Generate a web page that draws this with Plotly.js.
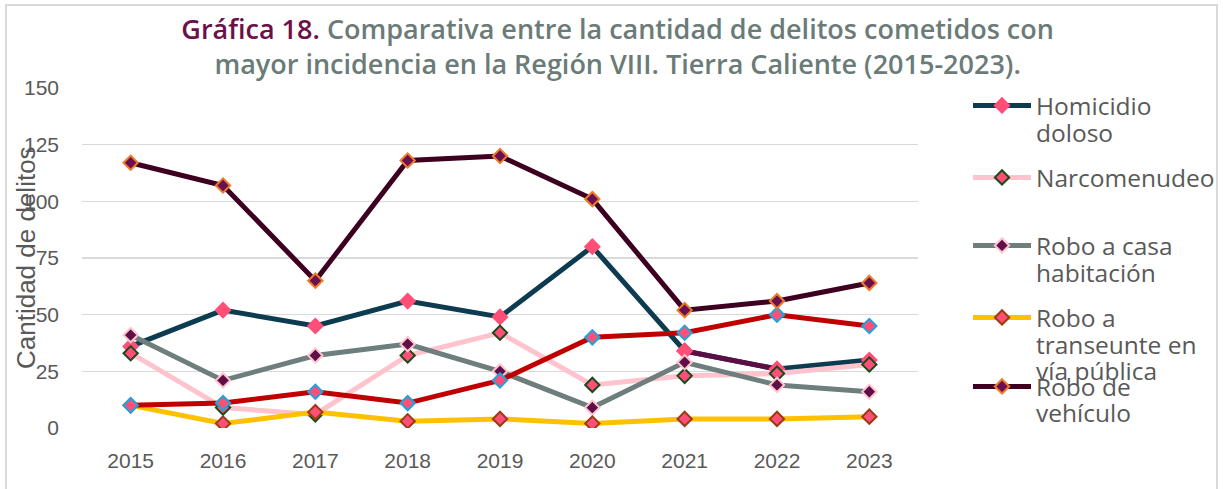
<!DOCTYPE html>
<html>
<head>
<meta charset="utf-8">
<script src="https://cdn.plot.ly/plotly-3.0.1.min.js"></script>
<style>html,body{margin:0;padding:0;background:#fff}#chart{width:1223px;height:489px}</style>
</head>
<body>
<div id="chart"></div>
<script>
const years = ['2015','2016','2017','2018','2019','2020','2021','2022','2023'];
const homicidio = [36, 52, 45, 56, 49, 80, 34, 26, 30];
const narcomenudeo = [33, 9, 6, 32, 42, 19, 23, 24, 28];
const roboCasa = [41, 21, 32, 37, 25, 9, 29, 19, 16];
const roboTranseunte = [10, 2, 7, 3, 4, 2, 4, 4, 5];
const serieRoja = [10, 11, 16, 11, 21, 40, 42, 50, 45];
const roboVehiculo = [117, 107, 65, 118, 120, 101, 52, 56, 64];
const yTicks = [0, 25, 50, 75, 100, 125, 150];
// legend names: first line goes in the legend, the rest continues below it
const legendNames = [['Homicidio', 'doloso'], ['Narcomenudeo'], ['Robo a casa', 'habitación'],
  ['Robo a', 'transeunte en', 'vía pública'], ['Robo de', 'vehículo']];

const MS = 11;
function tr(name, y, lineColor, fill, border, legend, show) {
  return {
    type: 'scatter', mode: 'lines+markers', name: name, x: years, y: y,
    line: {color: lineColor, width: 5},
    marker: {symbol: 'diamond', size: MS, color: fill, line: {color: border, width: border ? 2 : 0}},
    legend: legend, showlegend: show !== false
  };
}

const data = [
  tr(legendNames[0][0], homicidio, '#0d3b50', '#ff4f78', '#ff4f78', 'legend'),
  Object.assign(tr('seg', homicidio.slice(6, 8), '#5c0f45', '#ff4f78', '#ff4f78', 'legend', false), {x: years.slice(6, 8)}),
  tr(legendNames[1][0], narcomenudeo, '#ffc3cd', '#ff4f78', '#1c4a1c', 'legend2'),
  tr(legendNames[2][0], roboCasa, '#6d7e7c', '#5e0f48', '#ffc3cd', 'legend3'),
  tr(legendNames[3][0], roboTranseunte, '#ffc000', '#ff4f78', '#9a3c12', 'legend4'),
  tr('Otra', serieRoja, '#c00000', '#ff4f78', '#1ea4dc', 'legend', false),
  tr(legendNames[4][0], roboVehiculo, '#3d0020', '#6a1050', '#ee7a2c', 'legend5')
];

const legFont = {family: 'Open Sans, sans-serif', size: 24.5, color: '#595959'};
function leg(top) {
  return {xref: 'container', yref: 'container', x: 968 / 1223, y: 1 - top / 489,
    xanchor: 'left', yanchor: 'top', font: legFont, bgcolor: 'rgba(0,0,0,0)',
    valign: 'top', itemwidth: 58, borderwidth: 0};
}

// continuation lines of legend names (pixel row of each line centre)
const contRows = [[132], [], [272], [344, 370], [412]];
const contAnn = [];
legendNames.forEach((parts, i) => {
  parts.slice(1).forEach((t, j) => {
    contAnn.push({text: t, xref: 'paper', yref: 'paper', x: (1034 - 82) / 836,
      y: (428 - contRows[i][j]) / 340, xanchor: 'left', yanchor: 'middle', showarrow: false,
      font: legFont});
  });
});

const layout = {
  width: 1223, height: 489,
  margin: {l: 82, r: 305, t: 88, b: 61},
  paper_bgcolor: '#ffffff', plot_bgcolor: '#ffffff',
  font: {family: 'Liberation Sans, Arial, sans-serif', color: '#595959'},
  title: {
    text: '<span style="color:#6b1048">Gráfica 18.</span> Comparativa entre la cantidad de delitos cometidos con<br>mayor incidencia en la Región VIII. Tierra Caliente (2015-2023).',
    font: {family: 'Open Sans, sans-serif', size: 27, color: '#6b7b78', weight: 600},
    xref: 'container', x: 0.505, xanchor: 'center',
    yref: 'container', y: 1 - 39 / 489, yanchor: 'middle'
  },
  xaxis: {
    type: 'category', showgrid: false, zeroline: false, showline: false,
    ticks: '', tickfont: {size: 21, color: '#595959'}, ticklabelstandoff: 18
  },
  yaxis: {
    range: [0, 150], tickvals: yTicks, showgrid: true, gridcolor: '#d9d9d9', gridwidth: 1.5,
    zeroline: false, showline: false, ticks: '', tickfont: {size: 21, color: '#595959'},
    ticklabelstandoff: 22
  },
  showlegend: true,
  legend: leg(83),
  legend2: leg(155),
  legend3: leg(223),
  legend4: leg(295),
  legend5: leg(364),
  annotations: [{
    text: 'Cantidad de delitos', textangle: -90, xref: 'paper', yref: 'paper',
    x: 0, y: 0.5, xanchor: 'center', yanchor: 'middle', xshift: -56, showarrow: false,
    font: {family: 'Liberation Sans, Arial, sans-serif', size: 26, color: '#595959'}
  }].concat(contAnn),
  shapes: [{
    type: 'rect', xref: 'paper', yref: 'paper', layer: 'below',
    x0: (6 - 82) / 836, x1: (1217 - 82) / 836, y0: (428 - 500) / 340, y1: (428 - 5) / 340,
    line: {color: '#d9d9d9', width: 2}, fillcolor: 'rgba(0,0,0,0)'
  }]
};

Plotly.newPlot('chart', data, layout, {displayModeBar: false, staticPlot: true});
</script>
</body>
</html>
